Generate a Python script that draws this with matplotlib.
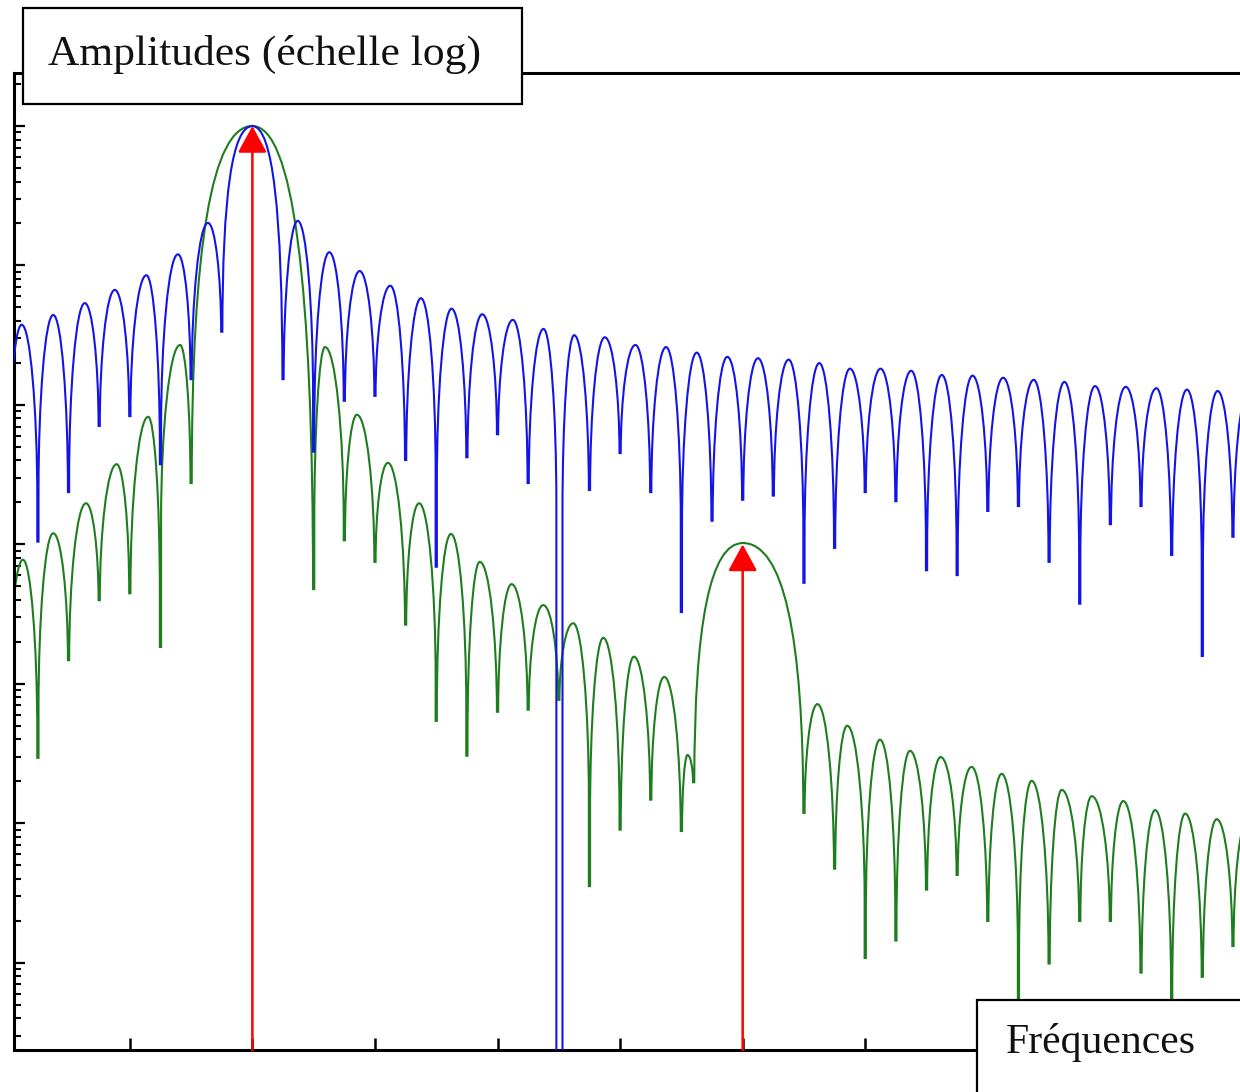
import numpy as np
import matplotlib
matplotlib.use("Agg")
import matplotlib.pyplot as plt
from matplotlib.path import Path
from matplotlib.patches import PathPatch, Rectangle
from matplotlib.ticker import LogLocator, NullFormatter, FixedLocator, NullLocator

# ---------------- data (frequency in bins 1/T, amplitude in dB re. main peak) -------------
# successive extrema (nulls and lobe peaks)
blue_freq = [0, 0.47, 1, 1.5, 2, 2.53, 3, 3.51, 4, 4.54, 5, 5.57, 6, 6.55, 7, 8,
             9, 9.48, 10, 10.51, 11, 11.5, 12, 12.5, 13, 13.5, 14, 14.5, 15, 15.5,
             16, 16.5, 17, 17.5, 17.94, 18.10, 18.5, 19, 19.5, 20, 20.5, 21, 21.5,
             22, 22.5, 23, 23.5, 24, 24.5, 25, 25.5, 26, 26.5, 27, 27.5, 28, 28.5,
             29, 29.5, 30, 30.5, 31, 31.5, 32, 32.5, 33, 33.5, 34, 34.5, 35, 35.5,
             36, 36.5, 37, 37.5, 38, 38.5, 39, 39.5, 40, 40.5, 41]
blue_db = [-70.8, -28.5, -59.6, -27.1, -52.5, -25.4, -43.0, -23.5, -41.6, -21.4,
           -48.5, -18.4, -36.3, -13.9, -29.5, 0.0,
           -36.3, -13.6, -46.7, -18.1, -39.4, -20.8, -38.7, -22.9, -47.9, -24.7,
           -63.2, -26.2, -47.5, -27.0, -44.2, -27.8, -51.2, -29.1, -200.0, -200.0,
           -30.0, -52.2, -30.3, -46.9, -31.4, -52.5, -31.7, -69.7, -32.5, -56.6,
           -33.1, -53.6, -33.3, -53.0, -33.5, -65.5, -34.0, -60.5, -34.8, -52.5,
           -34.8, -53.8, -35.1, -63.7, -35.7, -64.4, -35.8, -55.2, -36.1, -54.5,
           -36.4, -62.5, -36.7, -68.5, -37.3, -57.1, -37.4, -54.5, -37.6, -61.5,
           -37.8, -76.0, -38.0, -58.9, -38.1, -56.5]

green_freq = [0, 0.51, 1, 1.5, 2, 2.57, 3, 3.57, 4, 4.6, 5, 5.64, 6, 8,
              10, 10.37, 11, 11.41, 12, 12.42, 13, 13.44, 14, 14.48, 15, 15.42,
              16, 16.46, 17, 17.49, 18, 18.47, 19, 19.45, 20, 20.45, 21, 21.44,
              22, 22.2, 22.4, 24, 26, 26.44, 27, 27.41, 28, 28.48, 29, 29.46,
              30, 30.46, 31, 31.47, 32, 32.45, 33, 33.43, 34, 34.41, 35, 35.39,
              36, 36.42, 37, 37.46, 38, 38.44, 39, 39.47, 40, 40.45, 41]
green_db = [-118.0, -62.2, -90.6, -58.4, -76.6, -54.1, -68.0, -48.5, -67.0, -41.7,
            -74.7, -31.4, -51.2, 0.0,
            -66.4, -31.7, -59.4, -41.4, -62.5, -48.3, -71.5, -54.1, -85.3, -58.5,
            -90.3, -62.5, -84.0, -65.7, -83.7, -68.7, -82.3, -71.3, -109.0, -73.4,
            -100.9, -76.1, -96.6, -79.0, -101.1, -90.2, -94.1, -59.8, -98.5, -82.9,
            -106.5, -86.0, -119.3, -88.0, -116.8, -89.6, -109.5, -90.5, -107.4,
            -91.9, -114.0, -92.9, -200.0, -93.9, -120.1, -95.2, -114.0, -96.1,
            -114.0, -96.8, -121.4, -98.1, -200.0, -98.6, -122.0, -99.4, -117.6,
            -99.8, -118.0]

arrow_freq = [8, 24]
arrow_db = [0.0, -60.0]

xtick_freq = [4, 8, 12, 16, 20, 24, 28, 32, 36]
y_label = "Amplitudes (échelle log)"
x_label = "Fréquences"


# ---------------- helpers ----------------
def to_amp(db):
    return 10.0 ** (np.asarray(db, dtype=float) / 20.0)


def lobe_path(freq, db, spike=0.02, cap=25.0, a=0.55, c=0.5, main_w=0.8):
    """Arched lobes between successive extrema, drawn as Bezier segments
    (sidelobe arches with a narrow spike at each null, wide main lobes)."""
    n = len(freq)
    low = []
    for i in range(n):
        lo = True
        if i > 0 and db[i] > db[i - 1]:
            lo = False
        if i < n - 1 and db[i] > db[i + 1]:
            lo = False
        low.append(lo)

    verts, codes = [], []

    def put(x, d, code):
        verts.append((x, float(to_amp(d))))
        codes.append(code)

    if low[0]:
        put(freq[0] + spike, db[0], Path.MOVETO)
    else:
        put(freq[0], db[0], Path.MOVETO)

    for i in range(1, n):
        xp, dp, xc, dc = freq[i - 1], db[i - 1], freq[i], db[i]
        if low[i - 1] and low[i]:
            put(xc - spike, dc, Path.LINETO)
            put(xc + spike, dc, Path.LINETO)
        elif not low[i - 1] and low[i]:
            xl = xc - spike
            if abs(xl - xp) > main_w:
                put(xl, dp, Path.CURVE3)
                put(xl, dc, Path.CURVE3)
            else:
                dcap = max(dc, dp - cap)
                put(xp + a * (xl - xp), dp, Path.CURVE4)
                put(xl, dp + c * (dcap - dp), Path.CURVE4)
                put(xl, dcap, Path.CURVE4)
                if dcap > dc:
                    put(xl, dc, Path.LINETO)
            put(xc + spike, dc, Path.LINETO)
        elif low[i - 1] and not low[i]:
            xr = xp + spike
            if abs(xc - xr) > main_w:
                put(xr, dc, Path.CURVE3)
                put(xc, dc, Path.CURVE3)
            else:
                dcap = max(dp, dc - cap)
                if dcap > dp:
                    put(xr, dcap, Path.LINETO)
                put(xr, dc + c * (dcap - dc), Path.CURVE4)
                put(xc + a * (xr - xc), dc, Path.CURVE4)
                put(xc, dc, Path.CURVE4)
        else:
            put(xc, dc, Path.LINETO)
    return Path(verts, codes)


W, H = 1240, 1092
fig = plt.figure(figsize=(W / 100, H / 100), dpi=100)
fig.patch.set_facecolor("white")

ax_left, ax_right, ax_top, ax_bottom = 14, 1240, 73, 1050
ax = fig.add_axes([ax_left / W, 1 - ax_bottom / H,
                   (ax_right - ax_left) / W, (ax_bottom - ax_top) / H])

ax.set_yscale("log")
ax.set_xlim(0.22, 40.23)
ax.set_ylim(to_amp(-132.5), to_amp(7.6))

green_col = "#1e7d1e"
blue_col = "#1414e6"

ax.add_patch(PathPatch(lobe_path(green_freq, green_db), fill=False,
                       edgecolor=green_col, lw=1.5, joinstyle="miter",
                       capstyle="butt", zorder=2))
ax.add_patch(PathPatch(lobe_path(blue_freq, blue_db), fill=False,
                       edgecolor=blue_col, lw=1.5, joinstyle="miter",
                       capstyle="butt", zorder=3))

for f, d in zip(arrow_freq, arrow_db):
    ax.annotate("", xy=(f, to_amp(d)), xycoords="data",
                xytext=(f, 0), textcoords=("data", "axes fraction"),
                arrowprops=dict(arrowstyle="-|>,head_length=0.55,head_width=0.3",
                                color="#ff0000", lw=1.8, shrinkA=0, shrinkB=0,
                                mutation_scale=30),
                zorder=5, annotation_clip=False)

# axes styling
for side in ["left", "bottom", "top"]:
    ax.spines[side].set_linewidth(2.2)
    ax.spines[side].set_color("black")
ax.spines["right"].set_visible(False)

ax.xaxis.set_major_locator(FixedLocator(xtick_freq))
ax.xaxis.set_minor_locator(NullLocator())
ax.yaxis.set_major_locator(LogLocator(base=10, numticks=30))
ax.yaxis.set_minor_locator(LogLocator(base=10, subs=np.arange(2, 10), numticks=30))
ax.yaxis.set_major_formatter(NullFormatter())
ax.yaxis.set_minor_formatter(NullFormatter())
ax.tick_params(axis="x", which="major", direction="in", length=8.5, width=1.8,
               labelbottom=False, top=False)
ax.tick_params(axis="y", which="major", direction="in", length=8, width=1.6,
               labelleft=False, right=False)
ax.tick_params(axis="y", which="minor", direction="in", length=5, width=1.5,
               right=False)

# label boxes
fig.add_artist(Rectangle((23 / W, 1 - 104 / H), (522 - 23) / W, (104 - 8) / H,
                         transform=fig.transFigure, facecolor="white",
                         edgecolor="black", lw=1.6, zorder=10))
fig.text(48 / W, 1 - 64.7 / H, y_label, fontsize=31.3, family="Liberation Serif",
         ha="left", va="baseline", color="#111111", zorder=11)

fig.add_artist(Rectangle((977 / W, -0.05), 0.3, (H - 1000) / H + 0.05,
                         transform=fig.transFigure, facecolor="white",
                         edgecolor="black", lw=1.6, zorder=10))
fig.text(1006 / W, 1 - 1053 / H, x_label, fontsize=30, family="Liberation Serif",
         ha="left", va="baseline", color="#111111", zorder=11)

fig.savefig("out.png", dpi=100)
